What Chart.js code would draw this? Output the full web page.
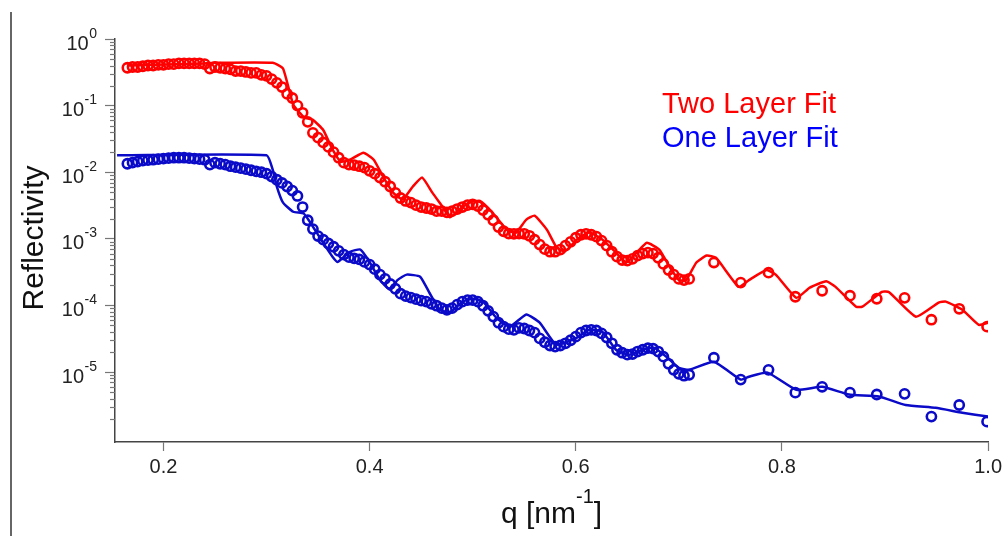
<!DOCTYPE html>
<html>
<head>
<meta charset="utf-8">
<script src="https://cdn.jsdelivr.net/npm/chart.js@4.4.1/dist/chart.umd.min.js"></script>
<style>
  html, body { margin: 0; padding: 0; background: #fff; }
  #wrap { position: relative; width: 1006px; height: 536px; }
</style>
</head>
<body>
<div id="wrap"><canvas id="refl"></canvas></div>
<script>
// measured q values [nm^-1]
const qData = [
  0.165, 0.170, 0.175, 0.180, 0.185, 0.190, 0.195, 0.200, 0.205, 0.210,
  0.215, 0.220, 0.225, 0.230, 0.235, 0.240, 0.245, 0.250, 0.255, 0.260,
  0.265, 0.270, 0.275, 0.280, 0.285, 0.290, 0.295, 0.300, 0.305, 0.310,
  0.315, 0.320, 0.325, 0.330, 0.335, 0.340, 0.345, 0.350, 0.355, 0.360,
  0.365, 0.370, 0.375, 0.380, 0.385, 0.390, 0.395, 0.400, 0.405, 0.410,
  0.415, 0.420, 0.425, 0.430, 0.435, 0.440, 0.445, 0.450, 0.455, 0.460,
  0.465, 0.470, 0.475, 0.480, 0.485, 0.490, 0.495, 0.500, 0.505, 0.510,
  0.515, 0.520, 0.525, 0.530, 0.535, 0.540, 0.545, 0.550, 0.555, 0.560,
  0.565, 0.570, 0.575, 0.580, 0.585, 0.590, 0.595, 0.600, 0.605, 0.610,
  0.615, 0.620, 0.625, 0.630, 0.635, 0.640, 0.645, 0.650, 0.655, 0.660,
  0.665, 0.670, 0.675, 0.680, 0.685, 0.690, 0.695, 0.700, 0.705, 0.710,
  0.734, 0.760, 0.787, 0.813, 0.839, 0.866, 0.892, 0.919, 0.945, 0.972, 0.999
];

// reflectivity, upper sample (two layer fit)
const twoLayerData = [
  0.37, 0.38, 0.38, 0.39, 0.40, 0.40, 0.41, 0.41, 0.42, 0.42,
  0.43, 0.43, 0.43, 0.43, 0.43, 0.42, 0.36, 0.38, 0.37, 0.36,
  0.35, 0.33, 0.33, 0.32, 0.31, 0.31, 0.29, 0.28, 0.25, 0.22,
  0.19, 0.15, 0.13, 0.10, 0.078, 0.057, 0.039, 0.033, 0.028, 0.024,
  0.020, 0.0165, 0.0139, 0.0130, 0.0128, 0.0123, 0.0117, 0.0105, 0.0095, 0.0083,
  0.0072, 0.0061, 0.0049, 0.0041, 0.0037, 0.0035, 0.0032, 0.0030, 0.0029, 0.0028,
  0.0026, 0.0026, 0.0025, 0.0026, 0.0028, 0.0030, 0.0032, 0.0033, 0.0031, 0.0027,
  0.0023, 0.0019, 0.0015, 0.0013, 0.00120, 0.00119, 0.00120, 0.00119, 0.00111, 0.00097,
  0.00082, 0.00070, 0.00064, 0.00064, 0.00069, 0.00079, 0.00090, 0.00104, 0.00115, 0.00119,
  0.00115, 0.00108, 0.00094, 0.00079, 0.00064, 0.00054, 0.00048, 0.00047, 0.00050, 0.00056,
  0.00060, 0.00062, 0.00060, 0.00052, 0.00042, 0.00034, 0.00029, 0.00025, 0.00024, 0.00025,
  0.00044, 0.00022, 0.00031, 0.000135, 0.000166, 0.00014, 0.000126, 0.00013, 0.000061, 0.000089, 0.000048
];

// reflectivity, lower sample (one layer fit)
const oneLayerData = [
  0.0134, 0.0139, 0.0144, 0.0149, 0.0152, 0.0154, 0.0157, 0.0160, 0.0163, 0.0165,
  0.0165, 0.0165, 0.0163, 0.0160, 0.0157, 0.0154, 0.0130, 0.0139, 0.0134, 0.0130,
  0.0123, 0.0119, 0.0115, 0.0111, 0.0107, 0.0103, 0.0100, 0.0095, 0.0086, 0.0077,
  0.0069, 0.0061, 0.0053, 0.0044, 0.0030, 0.0019, 0.0014, 0.0011, 0.00097, 0.00085,
  0.00076, 0.00066, 0.00058, 0.00053, 0.00051, 0.00049, 0.00045, 0.00041, 0.00035, 0.00029,
  0.00025, 0.00021, 0.000178, 0.000150, 0.000138, 0.000131, 0.000124, 0.000118, 0.000114, 0.000106,
  0.000099, 0.000091, 0.000086, 0.000091, 0.000103, 0.000114, 0.000120, 0.000120, 0.000114, 0.000099,
  0.000083, 0.000068, 0.000055, 0.000048, 0.000044, 0.000043, 0.000046, 0.000045, 0.000042, 0.000039,
  0.000032, 0.000028, 0.000025, 0.000024, 0.000025, 0.000027, 0.000030, 0.000034, 0.000039, 0.000042,
  0.000043, 0.000042, 0.000038, 0.000033, 0.000027, 0.0000216, 0.0000195, 0.0000182, 0.0000186, 0.0000203,
  0.0000216, 0.0000228, 0.0000224, 0.0000203, 0.0000170, 0.0000133, 0.0000108, 0.0000094, 0.0000088, 0.0000091,
  0.0000164, 0.0000077, 0.0000108, 0.0000049, 0.0000060, 0.0000049, 0.0000046, 0.0000047, 0.00000214, 0.0000032, 0.0000018
];

// fit curves
const twoFitQ = [
  0.165, 0.240, 0.250, 0.306, 0.316, 0.326, 0.337, 0.345, 0.355, 0.364, 0.372, 0.381,
  0.394, 0.404, 0.413, 0.423, 0.432, 0.442, 0.451, 0.461, 0.471, 0.478,
  0.490, 0.497, 0.507, 0.519, 0.533, 0.542, 0.552, 0.560, 0.572, 0.581,
  0.589, 0.601, 0.613, 0.626, 0.639, 0.649, 0.659, 0.669, 0.681, 0.691,
  0.700, 0.707, 0.717, 0.727, 0.736, 0.758, 0.768, 0.785, 0.794, 0.814,
  0.827, 0.843, 0.852, 0.872, 0.878, 0.897, 0.904, 0.930, 0.952, 0.959,
  0.975, 0.991, 1.000
];
const twoFitR = [
  0.40, 0.43, 0.44, 0.44, 0.36, 0.103, 0.066, 0.061, 0.043, 0.022, 0.0144, 0.0154,
  0.0196, 0.0154, 0.0086, 0.0049, 0.0039, 0.0061, 0.0083, 0.0049, 0.0030, 0.0021,
  0.0030, 0.0035, 0.0037, 0.0025, 0.00137, 0.00124, 0.00194, 0.00222, 0.00137, 0.00076,
  0.00064, 0.00097, 0.00124, 0.00097, 0.00062, 0.00044, 0.00062, 0.00087, 0.00069, 0.00038,
  0.00024, 0.00024, 0.00044, 0.00056, 0.00052, 0.00019, 0.00024, 0.00034, 0.00029, 0.00013,
  0.000185, 0.00023, 0.00019, 0.0000957, 0.0000957, 0.00016, 0.000158, 0.0000676, 0.00011, 0.000114,
  0.000086, 0.000051, 0.000055
];
const oneFitQ = [
  0.155, 0.300, 0.306, 0.310, 0.316, 0.326, 0.336, 0.341, 0.355, 0.364,
  0.369, 0.381, 0.391, 0.400, 0.410, 0.420, 0.427, 0.436, 0.449, 0.458,
  0.468, 0.478, 0.490, 0.500, 0.510, 0.523, 0.536, 0.552, 0.565, 0.581,
  0.601, 0.613, 0.626, 0.639, 0.652, 0.665, 0.676, 0.689, 0.700, 0.710,
  0.734, 0.760, 0.768, 0.786, 0.814, 0.839, 0.865, 0.894, 0.920, 0.949,
  0.975, 1.000
];
const oneFitR = [
  0.0179, 0.0179, 0.0109, 0.0061, 0.0035, 0.00255, 0.0024, 0.0019, 0.00087, 0.00054,
  0.00045, 0.00064, 0.00069, 0.00045, 0.00024, 0.000172, 0.00024, 0.00029, 0.00027, 0.000155,
  0.0000863, 0.000078, 0.000114, 0.000126, 0.000114, 0.000065, 0.000048, 0.000073, 0.000055, 0.0000257,
  0.0000327, 0.000043, 0.000040, 0.0000216, 0.0000182, 0.0000216, 0.000023, 0.0000164, 0.0000116, 0.0000108,
  0.0000143, 0.0000077, 0.0000085, 0.0000098, 0.0000054, 0.0000060, 0.0000046, 0.0000043, 0.0000032, 0.0000029,
  0.00000245, 0.00000214
];

const xTicks = [0.2, 0.4, 0.6, 0.8, 1.0];
const yDecades = [0, -1, -2, -3, -4, -5];
const legendNames = ["Two Layer Fit", "One Layer Fit"];

const FONT = '"Liberation Sans", Arial, sans-serif';
const RED = "#ff0000";
const BLUE = "#0a0ac8";

const pairs = (xs, ys) => xs.map((x, i) => ({x: x, y: ys[i]}));

// text, minor ticks and the frame line the library does not draw itself
const decorations = {
  id: "decorations",
  afterDraw(chart) {
    const ctx = chart.ctx;
    const ys = chart.scales.y;
    const area = chart.chartArea;
    ctx.save();

    ctx.strokeStyle = "#333";
    ctx.lineWidth = 1.5;
    ctx.beginPath();
    ctx.moveTo(11, 12);
    ctx.lineTo(11, 536);
    ctx.stroke();

    // minor log ticks
    ctx.strokeStyle = "#777";
    ctx.lineWidth = 1.2;
    for (let e = -6; e < 0; e++) {
      for (let m = 2; m <= 9; m++) {
        const v = m * Math.pow(10, e);
        if (v < ys.min || v > ys.max) continue;
        const py = Math.round(ys.getPixelForValue(v)) + 0.5;
        ctx.beginPath();
        ctx.moveTo(area.left - 5, py);
        ctx.lineTo(area.left, py);
        ctx.stroke();
      }
    }

    // decade labels 10^n
    ctx.fillStyle = "#222";
    ctx.textAlign = "right";
    ctx.textBaseline = "alphabetic";
    yDecades.forEach(e => {
      const py = ys.getPixelForValue(Math.pow(10, e));
      const sup = e === 0 ? "0" : "-" + (-e);
      ctx.font = "14px " + FONT;
      const w = ctx.measureText(sup).width;
      ctx.fillText(sup, 97, py - 1.5);
      ctx.font = "20px " + FONT;
      ctx.fillText("10", 97 - w - 0.5, py + 10.5);
    });

    // axis titles
    ctx.fillStyle = "#111";
    ctx.font = "30px " + FONT;
    ctx.save();
    ctx.translate(43, 238);
    ctx.rotate(-Math.PI / 2);
    ctx.textAlign = "center";
    ctx.fillText("Reflectivity", 0, 0);
    ctx.restore();

    ctx.textAlign = "left";
    const cx = (area.left + area.right) / 2;
    ctx.font = "30px " + FONT;
    const w1 = ctx.measureText("q [nm").width;
    const w3 = ctx.measureText("]").width;
    ctx.font = "20px " + FONT;
    const w2 = ctx.measureText("-1").width;
    let sx = cx - (w1 + w2 + w3) / 2;
    ctx.font = "30px " + FONT;
    ctx.fillText("q [nm", sx, 523);
    ctx.font = "20px " + FONT;
    ctx.fillText("-1", sx + w1, 503);
    ctx.font = "30px " + FONT;
    ctx.fillText("]", sx + w1 + w2, 523);

    // legend text
    ctx.font = "29px " + FONT;
    ctx.fillStyle = "#ff0000";
    ctx.fillText(legendNames[0], 662, 113);
    ctx.fillStyle = "#0000ff";
    ctx.fillText(legendNames[1], 662, 147);

    ctx.restore();
  }
};

new Chart(document.getElementById("refl"), {
  type: "line",
  data: {
    datasets: [
      {
        label: legendNames[0] + " fit",
        data: pairs(twoFitQ, twoFitR),
        borderColor: RED,
        borderWidth: 2.5,
        pointRadius: 0,
        tension: 0.15,
        order: 0
      },
      {
        label: legendNames[1] + " fit",
        data: pairs(oneFitQ, oneFitR),
        borderColor: BLUE,
        borderWidth: 2.5,
        pointRadius: 0,
        tension: 0.15,
        order: 0
      },
      {
        label: legendNames[0] + " data",
        data: pairs(qData, twoLayerData),
        showLine: false,
        pointStyle: "circle",
        pointRadius: 4.6,
        pointBorderWidth: 2.6,
        pointBorderColor: RED,
        pointBackgroundColor: "rgba(0,0,0,0)",
        order: 1
      },
      {
        label: legendNames[1] + " data",
        data: pairs(qData, oneLayerData),
        showLine: false,
        pointStyle: "circle",
        pointRadius: 4.6,
        pointBorderWidth: 2.6,
        pointBorderColor: BLUE,
        pointBackgroundColor: "rgba(0,0,0,0)",
        order: 1
      }
    ]
  },
  options: {
    responsive: true,
    maintainAspectRatio: false,
    animation: false,
    layout: {padding: {top: 39, right: 17, left: 0, bottom: 0}},
    scales: {
      x: {
        type: "linear",
        min: 0.153,
        max: 1.0,
        afterBuildTicks: s => { s.ticks = xTicks.map(v => ({value: v})); },
        afterFit: s => { s.height = 94; },
        grid: {drawOnChartArea: false, drawTicks: true, tickLength: 9, tickColor: "#777", tickWidth: 1.2},
        border: {display: true, color: "#444", width: 1.5},
        ticks: {
          color: "#222",
          padding: 4,
          maxRotation: 0,
          font: {family: FONT, size: 20},
          callback: v => v.toFixed(1)
        }
      },
      y: {
        type: "logarithmic",
        min: 8.9e-7,
        max: 1,
        afterBuildTicks: s => { s.ticks = yDecades.map(e => ({value: Math.pow(10, e)})); },
        afterFit: s => { s.width = 115; },
        grid: {drawOnChartArea: false, drawTicks: true, tickLength: 10, tickColor: "#777", tickWidth: 1.2},
        border: {display: true, color: "#444", width: 1.5},
        ticks: {display: false}
      }
    },
    plugins: {
      legend: {display: false},
      tooltip: {enabled: false}
    }
  },
  plugins: [decorations]
});
</script>
</body>
</html>
